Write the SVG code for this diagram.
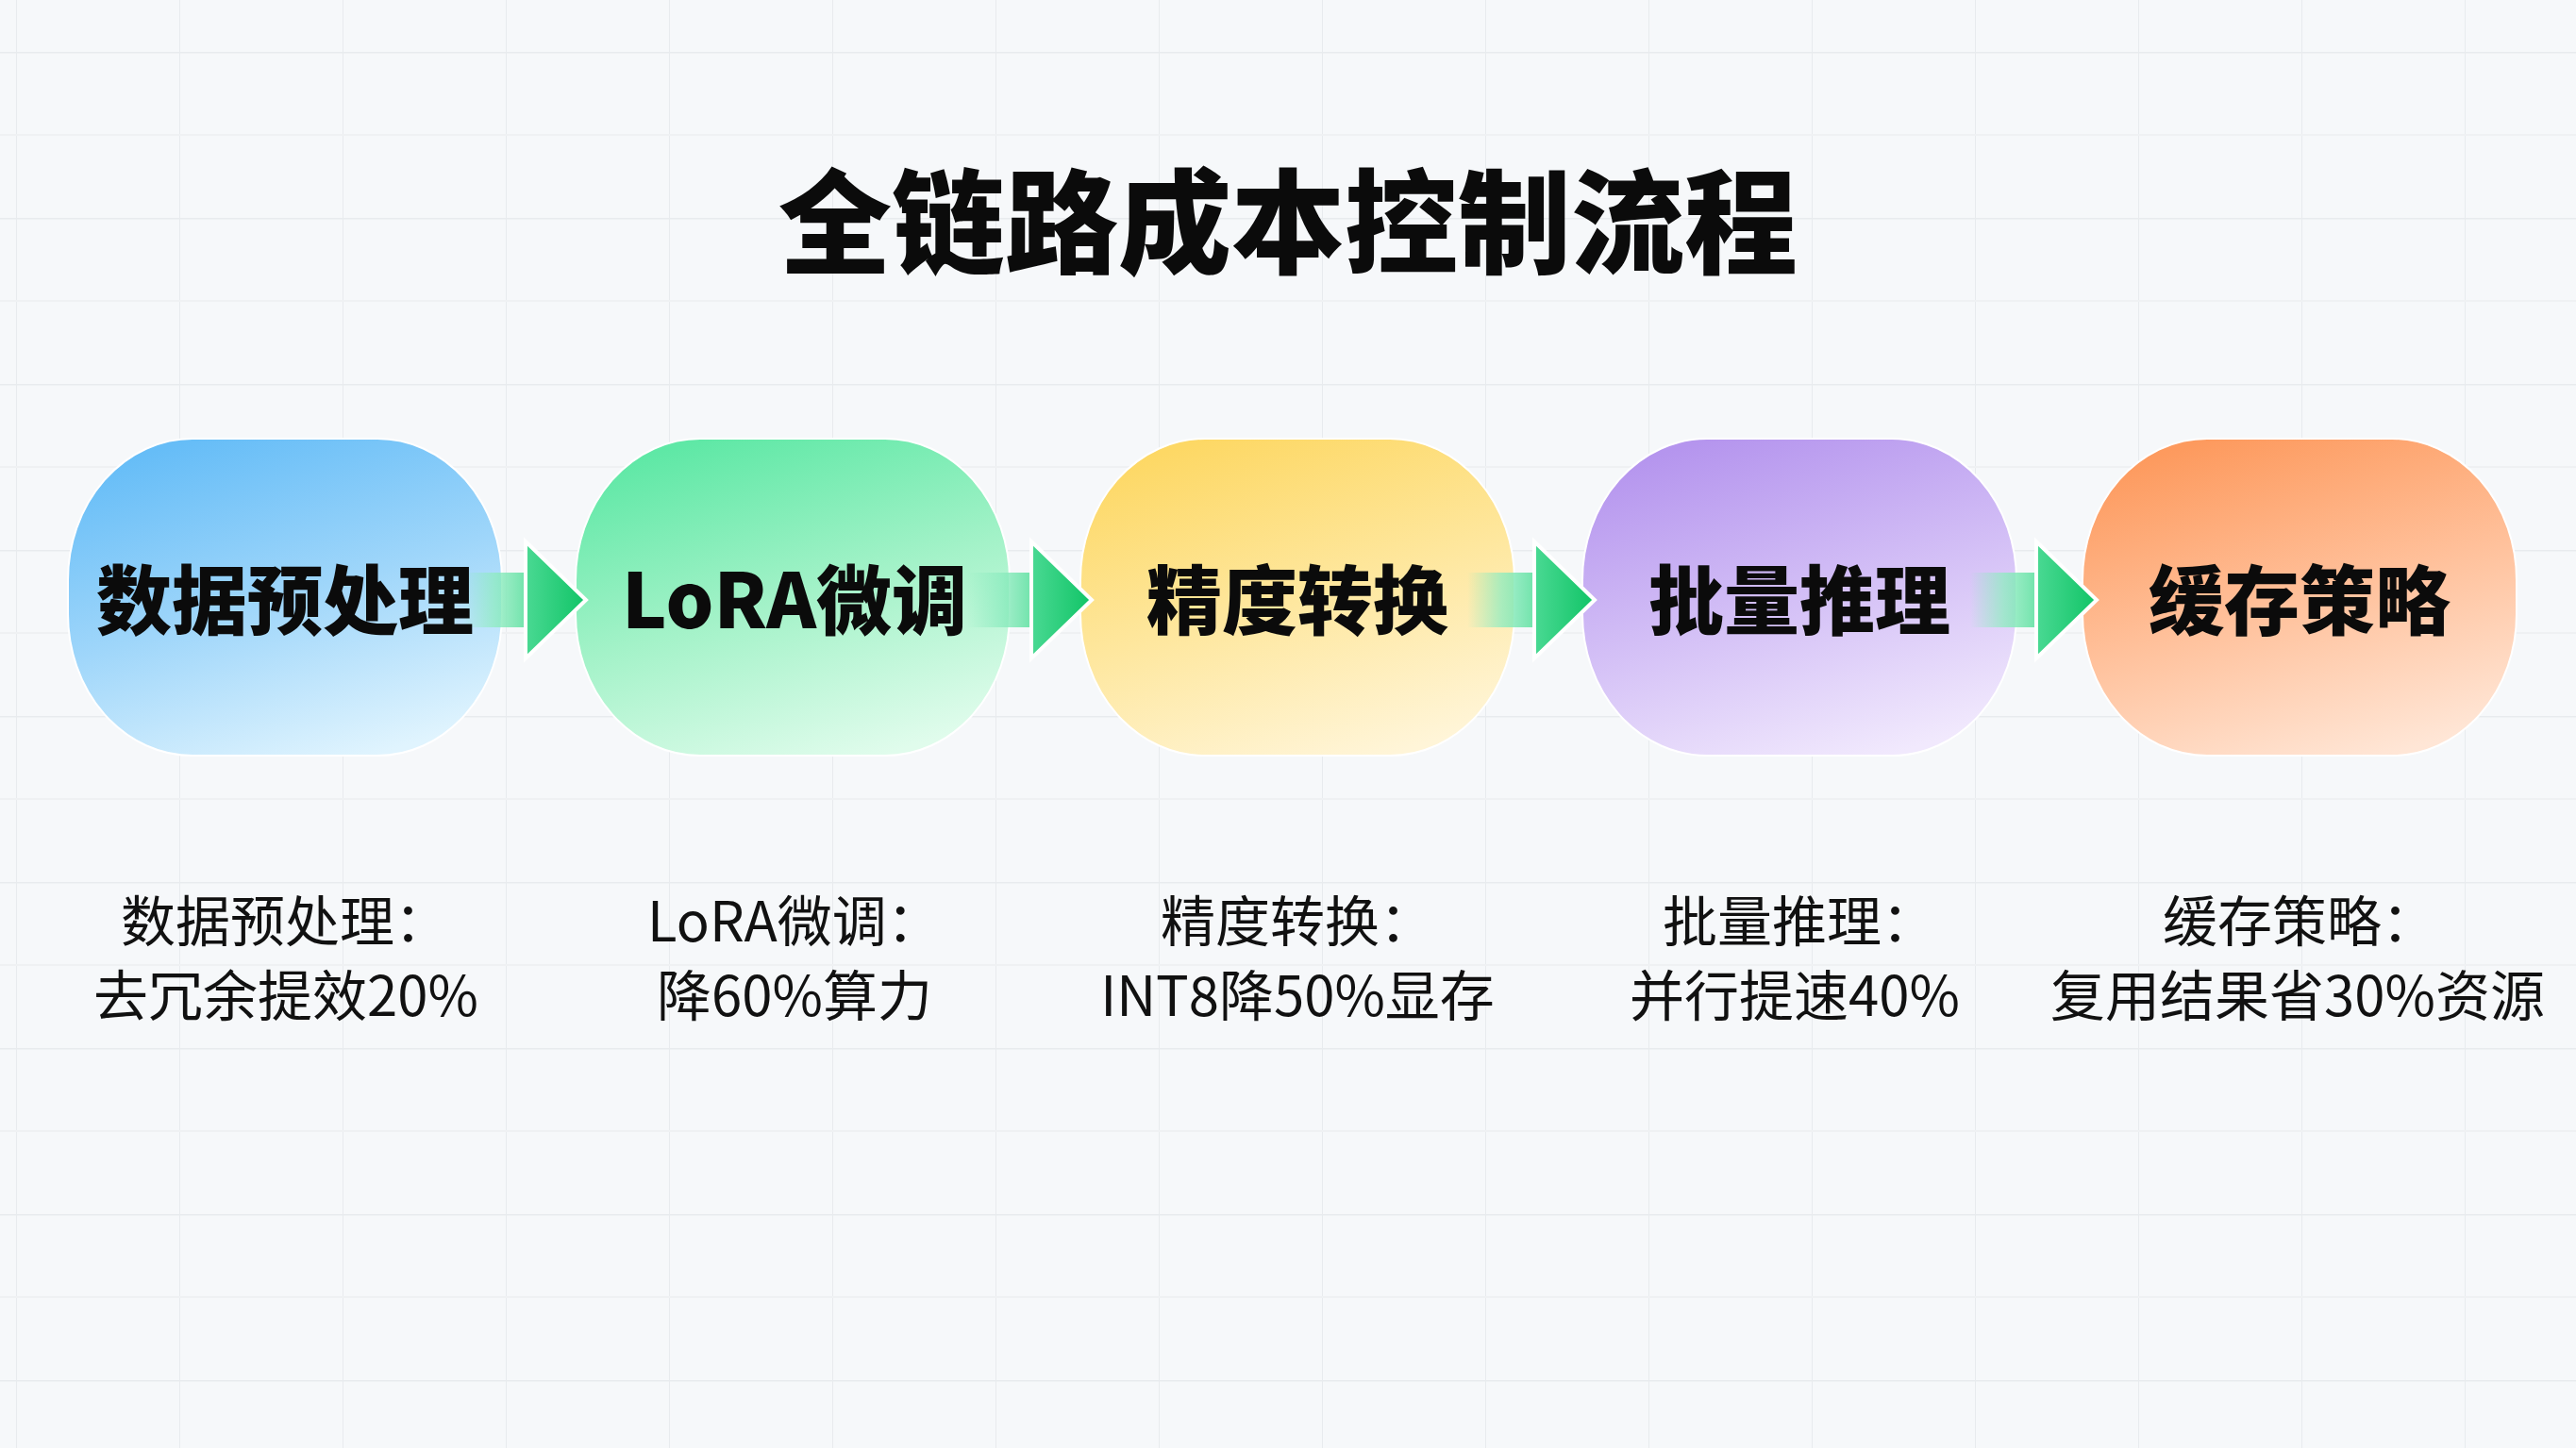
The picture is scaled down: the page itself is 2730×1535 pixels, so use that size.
<svg xmlns="http://www.w3.org/2000/svg" width="2730" height="1535" viewBox="0 0 2730 1535">
  <defs>
    <pattern id="grid" patternUnits="userSpaceOnUse" x="17" y="55" width="173" height="176">
      <path d="M0 0 V176" stroke="#e8ebee" stroke-width="2" fill="none"/>
      <path d="M0 0 H173" stroke="#e8ebee" stroke-width="3" fill="none"/>
      <path d="M0 88 H173" stroke="#eff1f3" stroke-width="2" fill="none"/>
    </pattern>
    <linearGradient id="gBlue" x1="0.3" y1="0" x2="0.7" y2="1">
      <stop offset="0" stop-color="#66bdf7"/>
      <stop offset="0.5" stop-color="#9fd6fa"/>
      <stop offset="1" stop-color="#e0f4fe"/>
    </linearGradient>
    <linearGradient id="gGreen" x1="0.3" y1="0" x2="0.7" y2="1">
      <stop offset="0" stop-color="#5fe8a6"/>
      <stop offset="0.5" stop-color="#a3f2c8"/>
      <stop offset="1" stop-color="#e0fcec"/>
    </linearGradient>
    <linearGradient id="gYellow" x1="0.3" y1="0" x2="0.7" y2="1">
      <stop offset="0" stop-color="#fdd865"/>
      <stop offset="0.5" stop-color="#fee79e"/>
      <stop offset="1" stop-color="#fff5d8"/>
    </linearGradient>
    <linearGradient id="gPurple" x1="0.3" y1="0" x2="0.7" y2="1">
      <stop offset="0" stop-color="#b595ee"/>
      <stop offset="0.5" stop-color="#d3bff6"/>
      <stop offset="1" stop-color="#f1e9fd"/>
    </linearGradient>
    <linearGradient id="gOrange" x1="0.3" y1="0" x2="0.7" y2="1">
      <stop offset="0" stop-color="#fd9a5e"/>
      <stop offset="0.5" stop-color="#ffc09a"/>
      <stop offset="1" stop-color="#ffe6d6"/>
    </linearGradient>
    <linearGradient id="gShaft" x1="0" y1="0" x2="1" y2="0">
      <stop offset="0" stop-color="#8eecc0" stop-opacity="0"/>
      <stop offset="0.5" stop-color="#8eecc0" stop-opacity="0.75"/>
      <stop offset="1" stop-color="#6fe3aa" stop-opacity="1"/>
    </linearGradient>
    <linearGradient id="gHead" x1="0" y1="0" x2="1" y2="0">
      <stop offset="0" stop-color="#4ad993"/>
      <stop offset="1" stop-color="#10c466"/>
    </linearGradient>
  </defs>
  <style>
    .node { stroke: #ffffff; stroke-width: 2; }
    .label { font-family: "Noto Sans CJK SC", "Noto Sans", sans-serif; font-weight: 900; font-size: 80px; fill: #0b0b0b; text-anchor: middle; }
    .title { font-family: "Noto Sans CJK SC", "Noto Sans", sans-serif; font-weight: 900; font-size: 120px; fill: #0b0b0b; text-anchor: middle; }
    .desc { font-family: "Noto Sans CJK SC", "Noto Sans", sans-serif; font-weight: 400; font-size: 58px; fill: #111111; text-anchor: middle; }
    .shaft { fill: url(#gShaft); }
    .head { fill: url(#gHead); stroke: #ffffff; stroke-width: 4; stroke-linejoin: miter; }
  </style>

  <rect x="0" y="0" width="2730" height="1535" fill="#f6f8fa"/>
  <rect x="0" y="0" width="2730" height="1535" fill="url(#grid)"/>

  <text class="title" x="1365" y="281">全链路成本控制流程</text>

  <g id="node1">
    <rect class="node" x="72" y="465" width="460" height="336" rx="132" ry="150" fill="url(#gBlue)"/>
  </g>
  <g id="node2">
    <rect class="node" x="610" y="465" width="460" height="336" rx="132" ry="150" fill="url(#gGreen)"/>
  </g>
  <g id="node3">
    <rect class="node" x="1145" y="465" width="460" height="336" rx="132" ry="150" fill="url(#gYellow)"/>
  </g>
  <g id="node4">
    <rect class="node" x="1677" y="465" width="460" height="336" rx="132" ry="150" fill="url(#gPurple)"/>
  </g>
  <g id="node5">
    <rect class="node" x="2207" y="465" width="460" height="336" rx="132" ry="150" fill="url(#gOrange)"/>
  </g>

  <g id="connectors">
    <rect class="shaft" x="490" y="607" width="68" height="58"/>
    <path class="head" d="M557 574 L621 636 L557 698 Z"/>
    <rect class="shaft" x="1025" y="607" width="69" height="58"/>
    <path class="head" d="M1093 574 L1157 636 L1093 698 Z"/>
    <rect class="shaft" x="1555" y="607" width="72" height="58"/>
    <path class="head" d="M1626 574 L1690 636 L1626 698 Z"/>
    <rect class="shaft" x="2088" y="607" width="71" height="58"/>
    <path class="head" d="M2158 574 L2222 636 L2158 698 Z"/>
  </g>

  <text class="label" x="302" y="666">数据预处理</text>
  <text class="label" x="842" y="666">LoRA微调</text>
  <text class="label" x="1375" y="666">精度转换</text>
  <text class="label" x="1907" y="666">批量推理</text>
  <text class="label" x="2437" y="666">缓存策略</text>

  <g id="desc1">
    <text class="desc" x="302" y="998">数据预处理：</text>
    <text class="desc" x="303" y="1077">去冗余提效20%</text>
  </g>
  <g id="desc2">
    <text class="desc" x="842" y="998">LoRA微调：</text>
    <text class="desc" x="842" y="1077">降60%算力</text>
  </g>
  <g id="desc3">
    <text class="desc" x="1375" y="998">精度转换：</text>
    <text class="desc" x="1375" y="1077">INT8降50%显存</text>
  </g>
  <g id="desc4">
    <text class="desc" x="1907" y="998">批量推理：</text>
    <text class="desc" x="1902" y="1077">并行提速40%</text>
  </g>
  <g id="desc5">
    <text class="desc" x="2437" y="998">缓存策略：</text>
    <text class="desc" x="2435" y="1077">复用结果省30%资源</text>
  </g>
</svg>
